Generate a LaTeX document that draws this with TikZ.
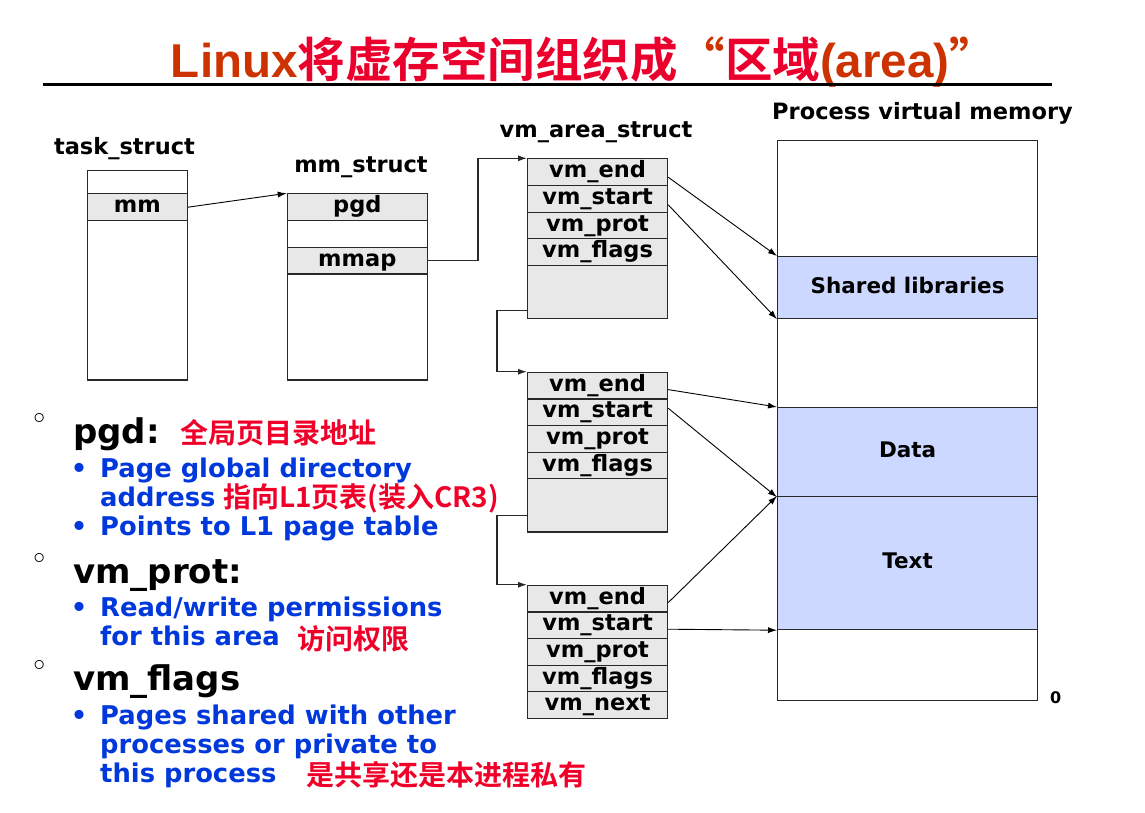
\documentclass[tikz,border=0pt]{standalone}
\usepackage{fontspec}
\setmainfont{DejaVu Sans}
\newfontfamily\cjk{Noto Sans CJK SC}[BoldFont={Noto Sans CJK SC Bold}]
\newfontfamily\titlefont{Liberation Sans}
\usetikzlibrary{arrows.meta,positioning}
\definecolor{fieldgray}{RGB}{232,232,232}
\definecolor{memblue}{RGB}{204,216,255}
\definecolor{noteblue}{RGB}{0,56,220}
\definecolor{notered}{RGB}{240,0,40}
\definecolor{titleorange}{RGB}{204,51,0}
\definecolor{titlered}{RGB}{235,0,45}
\definecolor{edgegray}{RGB}{40,40,40}

\begin{document}
\begin{tikzpicture}[x=1pt,y=-1pt,
  cell/.style={draw=edgegray,line width=1.2pt,inner sep=0pt,anchor=north west,
    font=\fontsize{22.5}{27}\selectfont\bfseries,text height=16pt,text depth=4.5pt},
  field/.style={cell,fill=fieldgray,minimum width=140pt,minimum height=26.6pt},
  region/.style={cell,fill=white,minimum width=260pt,font=\fontsize{21.5}{26}\selectfont\bfseries},
  title/.style={anchor=base,inner sep=0pt,font=\fontsize{22.5}{27}\selectfont\bfseries},
  ptr/.style={-{Latex[length=9pt,width=6pt]},line width=0.9pt},
  link/.style={ptr,draw=edgegray,line width=1.2pt},
  head/.style={anchor=base west,inner sep=0pt,font=\fontsize{34}{40}\selectfont\bfseries},
  note/.style={anchor=base west,inner sep=0pt,text=noteblue,font=\fontsize{25.8}{30}\selectfont\bfseries},
  dot/.style={note,anchor=center},
  cnote/.style={anchor=west,inner sep=0pt,text=notered,font=\cjk\fontsize{28}{34}\selectfont\bfseries},
  ring/.style={anchor=center,inner sep=0pt,font=\fontsize{31}{34}\selectfont}]
\useasboundingbox (0,0) rectangle (1145,813);

% title
\node[anchor=base,inner sep=0pt,font=\fontsize{47.5}{56}\selectfont\bfseries] (head) at (584,78)
  {\titlefont\color{titleorange}Linux\cjk\color{titlered}将虚存空间组织成\color{titleorange}“\color{titlered}区域\titlefont\color{titleorange}(area)\cjk”};
\draw[line width=3pt] (43,85) -- (1052,85);

% task_struct and mm_struct
\node[title] (ts-name) at (124.5,155) {task\_struct};
\node[cell,minimum width=100pt,minimum height=23.3pt] (ts-top) at (86.7,170) {};
\node[field,minimum width=100pt] (mm) at (86.7,193.3) {mm};
\node[cell,minimum width=100pt,minimum height=159.3pt] (ts-rest) at (86.7,220) {};

\node[title] (ms-name) at (361,173) {mm\_struct};
\node[field] (pgd) at (286.7,193.3) {pgd};
\node[cell,minimum width=140pt,minimum height=26.7pt] (ms-gap) at (286.7,220) {};
\node[field] (mmap) at (286.7,246.7) {mmap};
\node[cell,minimum width=140pt,minimum height=106pt] (ms-rest) at (286.7,273.3) {};

% vm_area_struct list
\node[title] (vma-name) at (596,138) {vm\_area\_struct};
\foreach \name/\top in {a/158.3,b/371.7}
{
    \foreach \fld [count=\i from 0] in {end,start,prot,flags}
        \node[field] (\name-\fld) at (527,\top+26.6*\i) {vm\_\fld};
    \node[field,minimum height=53.3pt] (\name-fill) at (527,\top+106.4) {};
}
\foreach \fld [count=\i from 0] in {end,start,prot,flags,next}
    \node[field] (c-\fld) at (527,584.7+26.6*\i) {vm\_\fld};

% process virtual memory
\node[title] (pvm-name) at (922.5,120) {Process virtual memory};
\node[region,minimum height=116pt] (mem-top) at (777,140) {};
\node[region,fill=memblue,minimum height=62pt] (shlib) at (777,256) {Shared libraries};
\node[region,minimum height=89pt] (mem-gap) at (777,318) {};
\node[region,fill=memblue,minimum height=89pt] (data) at (777,407) {Data};
\node[region,fill=memblue,minimum height=133pt] (text) at (777,496) {Text};
\node[region,minimum height=71pt] (mem-bot) at (777,629) {};
\node[anchor=base west,inner sep=0pt,font=\fontsize{16}{19}\selectfont\bfseries] (zero) at (1050,703) {0};

% pointers
\draw[ptr] (mm.east) -- (pgd.north west);
\draw[link] (mmap.east) -- ++(50,0) |- (a-end.north west);
\draw[link] ([yshift=8.5pt]a-fill.south west) -- ++(-30,0) |- (b-end.north west);
\draw[link] ([yshift=17.3pt]b-fill.south west) -- ++(-30,0) |- (c-end.north west);
\draw[ptr] ([yshift=-5pt]a-end.east) -- (shlib.north west);
\draw[ptr] ([yshift=-6pt]a-start.east) -- (shlib.south west);
\draw[ptr] ([yshift=-4pt]b-end.east) -- (data.north west);
\draw[ptr] ([yshift=4pt]b-start.east) -- (data.south west);
\draw[ptr] ([yshift=-4pt]c-end.east) -- (text.north west);
\draw[ptr] ([yshift=-4pt]c-start.east) -- (text.south west);

% notes
\node[ring] (r1) at (40,421.5) {◦};
\node[head] (pgd-h) at (73,443) {pgd:};
\node[cnote] (pgd-cn) at (180,433) {全局页目录地址};
\node[dot] (pgd-d1) at (79,470) {•};
\node[note] (pgd-l1) at (100,477) {Page global directory};
\node[note] (pgd-l2) at (100,506) {address};
\node[cnote] (pgd-cn2) at (223,498) {指向L1页表(装入CR3)};
\node[dot] (pgd-d2) at (79,528) {•};
\node[note] (pgd-l3) at (100,535) {Points to L1 page table};

\node[ring] (r2) at (40,561.5) {◦};
\node[head] (prot-h) at (73,583) {vm\_prot:};
\node[dot] (prot-d1) at (79,609) {•};
\node[note] (prot-l1) at (100,616) {Read/write permissions};
\node[note] (prot-l2) at (100,645) {for this area};
\node[cnote] (prot-cn) at (297,639) {访问权限};

\node[ring] (r3) at (40,668.5) {◦};
\node[head] (flags-h) at (73,690) {vm\_flags};
\node[dot] (flags-d1) at (79,717) {•};
\node[note] (flags-l1) at (100,724) {Pages shared with other};
\node[note] (flags-l2) at (100,753) {processes or private to};
\node[note] (flags-l3) at (100,782) {this process};
\node[cnote] (flags-cn) at (306,774.7) {是共享还是本进程私有};
\end{tikzpicture}
\end{document}
